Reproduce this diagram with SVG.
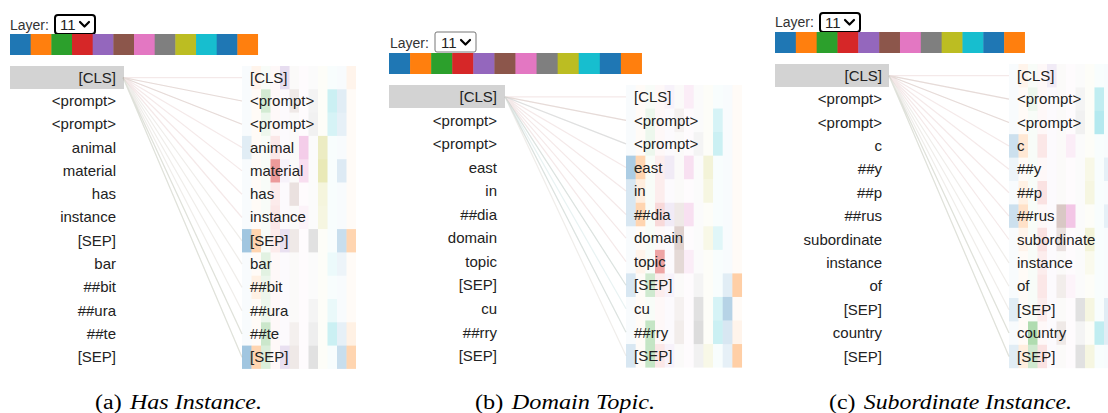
<svg xmlns="http://www.w3.org/2000/svg" width="1108" height="413" viewBox="0 0 1108 413">
<style>
.c0,.c10{fill:#1f77b4}.c1,.c11{fill:#ff7f0e}.c2{fill:#2ca02c}.c3{fill:#d62728}.c4{fill:#9467bd}.c5{fill:#8c564b}.c6{fill:#e377c2}.c7{fill:#7f7f7f}.c8{fill:#bcbd22}.c9{fill:#17becf}
text{font-family:"Liberation Sans",Arial,sans-serif;font-size:15px;fill:#222}
.lt{text-anchor:end}
.lab{font-size:14px;fill:#333}
.cap{font-family:"Liberation Serif","Times New Roman",serif;font-size:20px;fill:#000}
.it{font-style:italic}
.cls{fill:#d3d3d3}
.ln{fill:none;stroke-width:1.2}
.pk{stroke:#c98f8f;stroke-opacity:.2}
.gy{stroke:#a99a8a;stroke-opacity:.18}
.tl{stroke:#7fb8b8;stroke-opacity:.18}
.gn{stroke:#9fb59a;stroke-opacity:.2}
.selA{fill:#fff;stroke:#000;stroke-width:2}
.selB{fill:#fff;stroke:#767676;stroke-width:1}
.chev{fill:none;stroke:#000;stroke-width:2.2;stroke-linecap:round;stroke-linejoin:round}
</style>
<defs>
<g id="strip">
<rect class="c0" x="0" y="0" width="1.02" height="1"/><rect class="c1" x="1" y="0" width="1.02" height="1"/><rect class="c2" x="2" y="0" width="1.02" height="1"/><rect class="c3" x="3" y="0" width="1.02" height="1"/><rect class="c4" x="4" y="0" width="1.02" height="1"/><rect class="c5" x="5" y="0" width="1.02" height="1"/><rect class="c6" x="6" y="0" width="1.02" height="1"/><rect class="c7" x="7" y="0" width="1.02" height="1"/><rect class="c8" x="8" y="0" width="1.02" height="1"/><rect class="c9" x="9" y="0" width="1.02" height="1"/><rect class="c10" x="10" y="0" width="1.02" height="1"/><rect class="c11" x="11" y="0" width="1" height="1"/>
</g>
<g id="wash13" fill-opacity=".03">
<rect class="c0" x="0" y="0" width="1" height="13"/><rect class="c1" x="1" y="0" width="1" height="13"/><rect class="c2" x="2" y="0" width="1" height="13"/><rect class="c3" x="3" y="0" width="1" height="13"/><rect class="c4" x="4" y="0" width="1" height="13"/><rect class="c5" x="5" y="0" width="1" height="13"/><rect class="c6" x="6" y="0" width="1" height="13"/><rect class="c7" x="7" y="0" width="1" height="13"/><rect class="c8" x="8" y="0" width="1" height="13"/><rect class="c9" x="9" y="0" width="1" height="13"/><rect class="c10" x="10" y="0" width="1" height="13"/><rect class="c11" x="11" y="0" width="1" height="13"/>
</g>
<g id="wash12" fill-opacity=".03">
<rect class="c0" x="0" y="0" width="1" height="12"/><rect class="c1" x="1" y="0" width="1" height="12"/><rect class="c2" x="2" y="0" width="1" height="12"/><rect class="c3" x="3" y="0" width="1" height="12"/><rect class="c4" x="4" y="0" width="1" height="12"/><rect class="c5" x="5" y="0" width="1" height="12"/><rect class="c6" x="6" y="0" width="1" height="12"/><rect class="c7" x="7" y="0" width="1" height="12"/><rect class="c8" x="8" y="0" width="1" height="12"/><rect class="c9" x="9" y="0" width="1" height="12"/><rect class="c10" x="10" y="0" width="1" height="12"/><rect class="c11" x="11" y="0" width="1" height="12"/>
</g>
</defs>

<!-- Panel A -->
<g id="panelA">
<text class="lab" x="10" y="30">Layer:</text>
<rect class="selA" x="55" y="15" width="40" height="19" rx="3"/>
<text x="60" y="30">11</text>
<path class="chev" d="M80 22 L84.5 26.5 L89 22"/>
<use href="#strip" transform="translate(10,34) scale(20.67,21)"/>
<g id="heatA" transform="translate(242,66) scale(9.5,23.3)">
<use href="#wash13"/>
<rect class="c4" x="4" y="0" width="1" height="1" fill-opacity=".2"/><rect class="c1" x="1" y="0" width="1" height="1" fill-opacity=".05"/><rect class="c11" x="11" y="0" width="1" height="1" fill-opacity=".05"/>
<rect class="c2" x="2" y="1" width="1" height="1" fill-opacity=".18"/><rect class="c5" x="5" y="1" width="1" height="1" fill-opacity=".1"/><rect class="c9" x="9" y="1" width="1" height="1" fill-opacity=".2"/><rect class="c10" x="10" y="1" width="1" height="1" fill-opacity=".1"/><rect class="c7" x="7" y="1" width="1" height="1" fill-opacity=".06"/>
<rect class="c9" x="9" y="2" width="1" height="1" fill-opacity=".15"/><rect class="c10" x="10" y="2" width="1" height="1" fill-opacity=".08"/><rect class="c7" x="7" y="2" width="1" height="1" fill-opacity=".08"/><rect class="c2" x="2" y="2" width="1" height="1" fill-opacity=".05"/>
<rect class="c0" x="0" y="3" width="1" height="1" fill-opacity=".1"/><rect class="c6" x="6" y="3" width="1" height="1" fill-opacity=".35"/><rect class="c8" x="8" y="3" width="1" height="1" fill-opacity=".25"/><rect class="c3" x="3" y="3" width="1" height="1" fill-opacity=".08"/>
<rect class="c3" x="3" y="4" width="1" height="1" fill-opacity=".45"/><rect class="c6" x="6" y="4" width="1" height="1" fill-opacity=".22"/><rect class="c8" x="8" y="4" width="1" height="1" fill-opacity=".3"/><rect class="c10" x="10" y="4" width="1" height="1" fill-opacity=".12"/><rect class="c4" x="4" y="4" width="1" height="1" fill-opacity=".05"/>
<rect class="c5" x="5" y="5" width="1" height="1" fill-opacity=".15"/><rect class="c8" x="8" y="5" width="1" height="1" fill-opacity=".12"/><rect class="c3" x="3" y="5" width="1" height="1" fill-opacity=".06"/>
<rect class="c3" x="3" y="6" width="1" height="1" fill-opacity=".08"/><rect class="c6" x="6" y="6" width="1" height="1" fill-opacity=".06"/><rect class="c8" x="8" y="6" width="1" height="1" fill-opacity=".1"/>
<rect class="c0" x="0" y="7" width="1" height="1" fill-opacity=".4"/><rect class="c1" x="1" y="7" width="1" height="1" fill-opacity=".3"/><rect class="c4" x="4" y="7" width="1" height="1" fill-opacity=".18"/><rect class="c5" x="5" y="7" width="1" height="1" fill-opacity=".1"/><rect class="c7" x="7" y="7" width="1" height="1" fill-opacity=".2"/><rect class="c10" x="10" y="7" width="1" height="1" fill-opacity=".22"/><rect class="c11" x="11" y="7" width="1" height="1" fill-opacity=".3"/><rect class="c3" x="3" y="7" width="1" height="1" fill-opacity=".06"/>
<rect class="c2" x="2" y="8" width="1" height="1" fill-opacity=".1"/><rect class="c9" x="9" y="8" width="1" height="1" fill-opacity=".05"/><rect class="c10" x="10" y="8" width="1" height="1" fill-opacity=".05"/>
<rect class="c1" x="1" y="9" width="1" height="1" fill-opacity=".08"/><rect class="c2" x="2" y="9" width="1" height="1" fill-opacity=".06"/>
<rect class="c2" x="2" y="10" width="1" height="1" fill-opacity=".05"/><rect class="c7" x="7" y="10" width="1" height="1" fill-opacity=".05"/><rect class="c9" x="9" y="10" width="1" height="1" fill-opacity=".06"/>
<rect class="c2" x="2" y="11" width="1" height="1" fill-opacity=".22"/><rect class="c7" x="7" y="11" width="1" height="1" fill-opacity=".1"/><rect class="c9" x="9" y="11" width="1" height="1" fill-opacity=".2"/><rect class="c10" x="10" y="11" width="1" height="1" fill-opacity=".08"/><rect class="c11" x="11" y="11" width="1" height="1" fill-opacity=".08"/><rect class="c5" x="5" y="11" width="1" height="1" fill-opacity=".06"/>
<rect class="c0" x="0" y="12" width="1" height="1" fill-opacity=".4"/><rect class="c1" x="1" y="12" width="1" height="1" fill-opacity=".3"/><rect class="c2" x="2" y="12" width="1" height="1" fill-opacity=".15"/><rect class="c4" x="4" y="12" width="1" height="1" fill-opacity=".18"/><rect class="c5" x="5" y="12" width="1" height="1" fill-opacity=".1"/><rect class="c7" x="7" y="12" width="1" height="1" fill-opacity=".2"/><rect class="c10" x="10" y="12" width="1" height="1" fill-opacity=".22"/><rect class="c11" x="11" y="12" width="1" height="1" fill-opacity=".3"/>
</g>
<rect id="clsA" class="cls" x="10" y="66" width="114" height="23"/>
<g id="leftA">
<text class="lt" x="116" y="82.6">[CLS]</text><text class="lt" x="116" y="105.9">&lt;prompt&gt;</text><text class="lt" x="116" y="129.2">&lt;prompt&gt;</text><text class="lt" x="116" y="152.5">animal</text><text class="lt" x="116" y="175.8">material</text><text class="lt" x="116" y="199.1">has</text><text class="lt" x="116" y="222.4">instance</text><text class="lt" x="116" y="245.7">[SEP]</text><text class="lt" x="116" y="269">bar</text><text class="lt" x="116" y="292.3">##bit</text><text class="lt" x="116" y="315.6">##ura</text><text class="lt" x="116" y="338.9">##te</text><text class="lt" x="116" y="362.2">[SEP]</text>
</g>
<g id="rightA">
<text x="250" y="82.6">[CLS]</text><text x="250" y="105.9">&lt;prompt&gt;</text><text x="250" y="129.2">&lt;prompt&gt;</text><text x="250" y="152.5">animal</text><text x="250" y="175.8">material</text><text x="250" y="199.1">has</text><text x="250" y="222.4">instance</text><text x="250" y="245.7">[SEP]</text><text x="250" y="269">bar</text><text x="250" y="292.3">##bit</text><text x="250" y="315.6">##ura</text><text x="250" y="338.9">##te</text><text x="250" y="362.2">[SEP]</text>
</g>
</g>

<!-- Panel B -->
<g id="panelB">
<text class="lab" x="390" y="48">Layer:</text>
<rect class="selB" x="435" y="32" width="41" height="20" rx="2"/>
<text x="441" y="48">11</text>
<path class="chev" d="M461 40 L465.5 44.5 L470 40"/>
<use href="#strip" transform="translate(389,53) scale(21.08,21)"/>
<g id="heatB" transform="translate(626,85) scale(9.67,23.55)">
<use href="#wash12"/>
<rect class="c6" x="6" y="0" width="1" height="1" fill-opacity=".1"/><rect class="c4" x="4" y="0" width="1" height="1" fill-opacity=".05"/>
<rect class="c9" x="9" y="1" width="1" height="1" fill-opacity=".15"/><rect class="c2" x="2" y="1" width="1" height="1" fill-opacity=".05"/><rect class="c5" x="5" y="1" width="1" height="1" fill-opacity=".05"/>
<rect class="c9" x="9" y="2" width="1" height="1" fill-opacity=".2"/><rect class="c2" x="2" y="2" width="1" height="1" fill-opacity=".05"/><rect class="c7" x="7" y="2" width="1" height="1" fill-opacity=".05"/>
<rect class="c0" x="0" y="3" width="1" height="1" fill-opacity=".35"/><rect class="c1" x="1" y="3" width="1" height="1" fill-opacity=".3"/><rect class="c4" x="4" y="3" width="1" height="1" fill-opacity=".1"/><rect class="c6" x="6" y="3" width="1" height="1" fill-opacity=".2"/><rect class="c8" x="8" y="3" width="1" height="1" fill-opacity=".15"/><rect class="c3" x="3" y="3" width="1" height="1" fill-opacity=".05"/>
<rect class="c0" x="0" y="4" width="1" height="1" fill-opacity=".15"/><rect class="c1" x="1" y="4" width="1" height="1" fill-opacity=".1"/><rect class="c3" x="3" y="4" width="1" height="1" fill-opacity=".05"/><rect class="c8" x="8" y="4" width="1" height="1" fill-opacity=".1"/>
<rect class="c0" x="0" y="5" width="1" height="1" fill-opacity=".15"/><rect class="c1" x="1" y="5" width="1" height="1" fill-opacity=".3"/><rect class="c3" x="3" y="5" width="1" height="1" fill-opacity=".15"/><rect class="c6" x="6" y="5" width="1" height="1" fill-opacity=".2"/><rect class="c5" x="5" y="5" width="1" height="1" fill-opacity=".1"/><rect class="c4" x="4" y="5" width="1" height="1" fill-opacity=".1"/>
<rect class="c5" x="5" y="6" width="1" height="1" fill-opacity=".25"/><rect class="c9" x="9" y="6" width="1" height="1" fill-opacity=".1"/><rect class="c8" x="8" y="6" width="1" height="1" fill-opacity=".08"/>
<rect class="c3" x="3" y="7" width="1" height="1" fill-opacity=".4"/><rect class="c5" x="5" y="7" width="1" height="1" fill-opacity=".2"/><rect class="c6" x="6" y="7" width="1" height="1" fill-opacity=".1"/><rect class="c1" x="1" y="7" width="1" height="1" fill-opacity=".05"/>
<rect class="c0" x="0" y="8" width="1" height="1" fill-opacity=".15"/><rect class="c2" x="2" y="8" width="1" height="1" fill-opacity=".2"/><rect class="c3" x="3" y="8" width="1" height="1" fill-opacity=".05"/><rect class="c4" x="4" y="8" width="1" height="1" fill-opacity=".05"/><rect class="c7" x="7" y="8" width="1" height="1" fill-opacity=".05"/><rect class="c10" x="10" y="8" width="1" height="1" fill-opacity=".1"/><rect class="c11" x="11" y="8" width="1" height="1" fill-opacity=".35"/>
<rect class="c7" x="7" y="9" width="1" height="1" fill-opacity=".2"/><rect class="c9" x="9" y="9" width="1" height="1" fill-opacity=".15"/><rect class="c10" x="10" y="9" width="1" height="1" fill-opacity=".3"/><rect class="c5" x="5" y="9" width="1" height="1" fill-opacity=".05"/>
<rect class="c2" x="2" y="10" width="1" height="1" fill-opacity=".25"/><rect class="c5" x="5" y="10" width="1" height="1" fill-opacity=".08"/><rect class="c7" x="7" y="10" width="1" height="1" fill-opacity=".25"/><rect class="c9" x="9" y="10" width="1" height="1" fill-opacity=".2"/><rect class="c10" x="10" y="10" width="1" height="1" fill-opacity=".15"/><rect class="c11" x="11" y="10" width="1" height="1" fill-opacity=".05"/>
<rect class="c0" x="0" y="11" width="1" height="1" fill-opacity=".15"/><rect class="c2" x="2" y="11" width="1" height="1" fill-opacity=".25"/><rect class="c3" x="3" y="11" width="1" height="1" fill-opacity=".08"/><rect class="c4" x="4" y="11" width="1" height="1" fill-opacity=".05"/><rect class="c7" x="7" y="11" width="1" height="1" fill-opacity=".08"/><rect class="c8" x="8" y="11" width="1" height="1" fill-opacity=".08"/><rect class="c10" x="10" y="11" width="1" height="1" fill-opacity=".08"/><rect class="c11" x="11" y="11" width="1" height="1" fill-opacity=".35"/>
</g>
<rect id="clsB" class="cls" x="389" y="85" width="116" height="23"/>
<g id="leftB">
<text class="lt" x="497" y="102">[CLS]</text><text class="lt" x="497" y="125.5">&lt;prompt&gt;</text><text class="lt" x="497" y="149.1">&lt;prompt&gt;</text><text class="lt" x="497" y="172.6">east</text><text class="lt" x="497" y="196.2">in</text><text class="lt" x="497" y="219.7">##dia</text><text class="lt" x="497" y="243.3">domain</text><text class="lt" x="497" y="266.8">topic</text><text class="lt" x="497" y="290.4">[SEP]</text><text class="lt" x="497" y="313.9">cu</text><text class="lt" x="497" y="337.5">##rry</text><text class="lt" x="497" y="361">[SEP]</text>
</g>
<g id="rightB">
<text x="634" y="102">[CLS]</text><text x="634" y="125.5">&lt;prompt&gt;</text><text x="634" y="149.1">&lt;prompt&gt;</text><text x="634" y="172.6">east</text><text x="634" y="196.2">in</text><text x="634" y="219.7">##dia</text><text x="634" y="243.3">domain</text><text x="634" y="266.8">topic</text><text x="634" y="290.4">[SEP]</text><text x="634" y="313.9">cu</text><text x="634" y="337.5">##rry</text><text x="634" y="361">[SEP]</text>
</g>
</g>

<!-- Panel C -->
<g id="panelC">
<text class="lab" x="775" y="27">Layer:</text>
<rect class="selA" x="820" y="13" width="40" height="19" rx="3"/>
<text x="825" y="28">11</text>
<path class="chev" d="M845 20 L849.5 24.5 L854 20"/>
<use href="#strip" transform="translate(775,32) scale(20.83,21)"/>
<g id="heatC" transform="translate(1009,64) scale(9.5,23.4)">
<use href="#wash13"/>
<rect class="c1" x="1" y="0" width="1" height="1" fill-opacity=".05"/><rect class="c4" x="4" y="0" width="1" height="1" fill-opacity=".1"/>
<rect class="c9" x="9" y="1" width="1" height="1" fill-opacity=".25"/><rect class="c2" x="2" y="1" width="1" height="1" fill-opacity=".05"/><rect class="c7" x="7" y="1" width="1" height="1" fill-opacity=".05"/>
<rect class="c9" x="9" y="2" width="1" height="1" fill-opacity=".3"/><rect class="c7" x="7" y="2" width="1" height="1" fill-opacity=".08"/>
<rect class="c0" x="0" y="3" width="1" height="1" fill-opacity=".2"/><rect class="c1" x="1" y="3" width="1" height="1" fill-opacity=".15"/><rect class="c3" x="3" y="3" width="1" height="1" fill-opacity=".08"/><rect class="c6" x="6" y="3" width="1" height="1" fill-opacity=".1"/>
<rect class="c0" x="0" y="4" width="1" height="1" fill-opacity=".05"/><rect class="c8" x="8" y="4" width="1" height="1" fill-opacity=".08"/><rect class="c10" x="10" y="4" width="1" height="1" fill-opacity=".08"/>
<rect class="c1" x="1" y="5" width="1" height="1" fill-opacity=".08"/><rect class="c3" x="3" y="5" width="1" height="1" fill-opacity=".1"/><rect class="c8" x="8" y="5" width="1" height="1" fill-opacity=".1"/>
<rect class="c0" x="0" y="6" width="1" height="1" fill-opacity=".2"/><rect class="c1" x="1" y="6" width="1" height="1" fill-opacity=".2"/><rect class="c5" x="5" y="6" width="1" height="1" fill-opacity=".3"/><rect class="c6" x="6" y="6" width="1" height="1" fill-opacity=".4"/><rect class="c10" x="10" y="6" width="1" height="1" fill-opacity=".08"/>
<rect class="c3" x="3" y="7" width="1" height="1" fill-opacity=".1"/><rect class="c5" x="5" y="7" width="1" height="1" fill-opacity=".15"/><rect class="c8" x="8" y="7" width="1" height="1" fill-opacity=".15"/><rect class="c1" x="1" y="7" width="1" height="1" fill-opacity=".05"/>
<rect class="c3" x="3" y="8" width="1" height="1" fill-opacity=".05"/><rect class="c8" x="8" y="8" width="1" height="1" fill-opacity=".05"/>
<rect class="c3" x="3" y="9" width="1" height="1" fill-opacity=".08"/><rect class="c5" x="5" y="9" width="1" height="1" fill-opacity=".08"/><rect class="c6" x="6" y="9" width="1" height="1" fill-opacity=".05"/>
<rect class="c0" x="0" y="10" width="1" height="1" fill-opacity=".1"/><rect class="c3" x="3" y="10" width="1" height="1" fill-opacity=".05"/><rect class="c7" x="7" y="10" width="1" height="1" fill-opacity=".2"/><rect class="c8" x="8" y="10" width="1" height="1" fill-opacity=".1"/><rect class="c10" x="10" y="10" width="1" height="1" fill-opacity=".1"/>
<rect class="c2" x="2" y="11" width="1" height="1" fill-opacity=".35"/><rect class="c5" x="5" y="11" width="1" height="1" fill-opacity=".1"/><rect class="c9" x="9" y="11" width="1" height="1" fill-opacity=".25"/><rect class="c7" x="7" y="11" width="1" height="1" fill-opacity=".05"/><rect class="c10" x="10" y="11" width="1" height="1" fill-opacity=".1"/>
<rect class="c0" x="0" y="12" width="1" height="1" fill-opacity=".1"/><rect class="c1" x="1" y="12" width="1" height="1" fill-opacity=".1"/><rect class="c2" x="2" y="12" width="1" height="1" fill-opacity=".2"/><rect class="c3" x="3" y="12" width="1" height="1" fill-opacity=".1"/><rect class="c7" x="7" y="12" width="1" height="1" fill-opacity=".2"/><rect class="c8" x="8" y="12" width="1" height="1" fill-opacity=".1"/>
</g>
<rect id="clsC" class="cls" x="775" y="64" width="114" height="23"/>
<g id="leftC">
<text class="lt" x="882" y="80.7">[CLS]</text><text class="lt" x="882" y="104.1">&lt;prompt&gt;</text><text class="lt" x="882" y="127.5">&lt;prompt&gt;</text><text class="lt" x="882" y="150.9">c</text><text class="lt" x="882" y="174.3">##y</text><text class="lt" x="882" y="197.7">##p</text><text class="lt" x="882" y="221.1">##rus</text><text class="lt" x="882" y="244.5">subordinate</text><text class="lt" x="882" y="267.9">instance</text><text class="lt" x="882" y="291.3">of</text><text class="lt" x="882" y="314.7">[SEP]</text><text class="lt" x="882" y="338.1">country</text><text class="lt" x="882" y="361.5">[SEP]</text>
</g>
<g id="rightC">
<text x="1017" y="80.7">[CLS]</text><text x="1017" y="104.1">&lt;prompt&gt;</text><text x="1017" y="127.5">&lt;prompt&gt;</text><text x="1017" y="150.9">c</text><text x="1017" y="174.3">##y</text><text x="1017" y="197.7">##p</text><text x="1017" y="221.1">##rus</text><text x="1017" y="244.5">subordinate</text><text x="1017" y="267.9">instance</text><text x="1017" y="291.3">of</text><text x="1017" y="314.7">[SEP]</text><text x="1017" y="338.1">country</text><text x="1017" y="361.5">[SEP]</text>
</g>
</g>

<!-- Connectors -->
<g id="connectors">
<path class="ln pk" d="M123 77.5L242 77.7M123 77.5L242 101M123 77.5L242 124.3M123 77.5L242 147.6M123 77.5L242 170.9M123 77.5L242 194.2M123 77.5L242 217.5"/>
<path class="ln gy" d="M123 77.5L242 101M123 77.5L242 124.3M123 77.5L242 240.8M123 77.5L242 264.1M123 77.5L242 287.4M123 77.5L242 310.7M123 77.5L242 334M123 77.5L242 357.3"/>
<path class="ln gn" d="M123 77.5L242 334M123 77.5L242 357.3"/>
<path class="ln pk" d="M505 96.8L626 96.8M505 96.8L626 120.3M505 96.8L626 143.9M505 96.8L626 167.4M505 96.8L626 191M505 96.8L626 214.5M505 96.8L626 238.1M505 96.8L626 261.6"/>
<path class="ln tl" d="M505 96.8L626 143.9M505 96.8L626 285.2M505 96.8L626 308.7M505 96.8L626 332.3"/>
<path class="ln gy" d="M505 96.8L626 120.3M505 96.8L626 285.2M505 96.8L626 332.3M505 96.8L626 355.8"/>
<path class="ln pk" d="M889 75.7L1009 75.7M889 75.7L1009 99.1M889 75.7L1009 122.5M889 75.7L1009 145.9M889 75.7L1009 169.3M889 75.7L1009 192.7M889 75.7L1009 216.1M889 75.7L1009 239.5"/>
<path class="ln gy" d="M889 75.7L1009 99.1M889 75.7L1009 122.5M889 75.7L1009 262.9M889 75.7L1009 286.3M889 75.7L1009 309.7M889 75.7L1009 333.1M889 75.7L1009 356.5"/>
<path class="ln gn" d="M889 75.7L1009 333.1M889 75.7L1009 356.5"/>
</g>

<!-- Captions -->
<text class="cap" x="95" y="409" textLength="167" lengthAdjust="spacingAndGlyphs">(a)<tspan class="it" dx="7">Has Instance.</tspan></text>
<text class="cap" x="475" y="409" textLength="180" lengthAdjust="spacingAndGlyphs">(b)<tspan class="it" dx="7">Domain Topic.</tspan></text>
<text class="cap" x="829" y="409" textLength="243" lengthAdjust="spacingAndGlyphs">(c)<tspan class="it" dx="7">Subordinate Instance.</tspan></text>
</svg>
